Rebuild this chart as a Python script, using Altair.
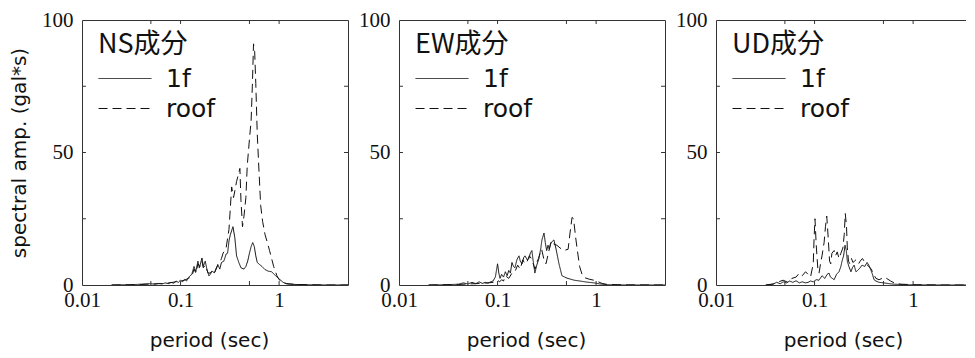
import altair as alt
import pandas as pd

# ---------------- data ----------------
ns_1f_period = [0.02, 0.03, 0.04, 0.05, 0.055, 0.06, 0.065, 0.07, 0.075, 0.08, 0.085, 0.09, 0.095,
                0.1, 0.105, 0.11, 0.115, 0.12, 0.125, 0.13, 0.137, 0.143, 0.15, 0.155, 0.165, 0.17,
                0.178, 0.185, 0.194, 0.2, 0.21, 0.22, 0.23, 0.24, 0.25, 0.26, 0.275, 0.29, 0.30,
                0.31, 0.32, 0.34, 0.355, 0.37, 0.39, 0.41, 0.44, 0.46, 0.48, 0.50, 0.52, 0.54,
                0.56, 0.58, 0.60, 0.63, 0.67, 0.72, 0.78, 0.84, 0.92, 1.0, 1.1, 1.17, 1.3, 1.6,
                2.0, 3.0, 5.0]
ns_1f_amp = [0.0, 0.1, 0.3, 0.5, 0.3, 0.6, 0.4, 0.8, 0.5, 1.0, 0.7, 1.5, 1.0,
             1.8, 1.2, 2.2, 1.5, 2.8, 3.5, 4.0, 7.0, 5.0, 9.0, 6.4, 10.2, 7.0,
             9.0, 6.0, 3.4, 4.0, 5.3, 4.5, 6.4, 7.5, 6.0, 8.5, 9.0, 11.7, 12.0,
             16.6, 19.0, 22.0, 18.0, 11.0, 8.5, 6.5, 6.0, 7.0, 9.0, 12.0, 14.5, 16.0,
             14.5, 11.0, 8.5, 7.8, 7.0, 5.8, 5.2, 5.0, 3.5, 2.3, 1.0, 0.5, 0.3, 0.15,
             0.05, 0.0, 0.0]

ns_roof_period = [0.02, 0.03, 0.04, 0.05, 0.06, 0.07, 0.08, 0.09, 0.1, 0.11, 0.12, 0.13, 0.137,
                  0.143, 0.15, 0.157, 0.165, 0.17, 0.178, 0.19, 0.2, 0.21, 0.22, 0.23, 0.24,
                  0.25, 0.26, 0.27, 0.28, 0.29, 0.31, 0.33, 0.345, 0.37, 0.40, 0.41, 0.425,
                  0.44, 0.46, 0.475, 0.50, 0.52, 0.535, 0.55, 0.565, 0.58, 0.60, 0.625, 0.65,
                  0.68, 0.72, 0.76, 0.80, 0.88, 0.95, 1.0, 1.1, 1.2, 1.5, 2.0, 3.0, 5.0]
ns_roof_amp = [0.0, 0.1, 0.2, 0.4, 0.5, 0.6, 0.9, 1.2, 1.5, 1.8, 2.5, 3.2, 6.0,
               4.5, 8.0, 7.0, 9.0, 6.5, 7.5, 4.5, 4.5, 5.5, 4.5, 6.0, 8.0,
               8.5, 10.0, 12.0, 13.0, 14.0, 21.0, 37.0, 33.0, 39.0, 44.0, 32.0, 22.0,
               26.0, 33.0, 45.0, 55.0, 62.0, 75.0, 91.0, 88.0, 76.0, 57.0, 43.0, 30.0,
               24.0, 19.0, 16.0, 13.0, 7.0, 3.5, 2.0, 1.0, 0.5, 0.2, 0.1, 0.0, 0.0]

ew_1f_period = [0.02, 0.03, 0.04, 0.045, 0.05, 0.055, 0.06, 0.065, 0.07, 0.075, 0.08, 0.085, 0.09,
                0.095, 0.1, 0.103, 0.106, 0.11, 0.115, 0.12, 0.125, 0.13, 0.135, 0.14, 0.145,
                0.15, 0.157, 0.165, 0.17, 0.177, 0.185, 0.19, 0.2, 0.208, 0.215, 0.223, 0.23,
                0.239, 0.25, 0.263, 0.275, 0.282, 0.296, 0.305, 0.315, 0.325, 0.335, 0.345,
                0.36, 0.373, 0.39, 0.40, 0.42, 0.45, 0.48, 0.506, 0.55, 0.6, 0.686, 0.77, 0.85,
                0.95, 1.09, 1.3, 2.0, 5.0]
ew_1f_amp = [0.0, 0.1, 0.3, 0.8, 0.4, 1.0, 0.5, 1.2, 0.6, 1.0, 0.7, 1.2, 1.5,
             3.0, 8.0, 4.5, 2.5, 4.0, 3.0, 5.0, 3.5, 5.5, 4.5, 8.5, 7.0,
             6.5, 9.5, 11.0, 9.0, 8.0, 10.5, 11.0, 9.5, 10.0, 12.0, 13.0, 9.0,
             4.5, 7.5, 10.0, 14.0, 17.0, 19.6, 16.0, 13.0, 15.0, 13.5, 15.5,
             16.5, 17.0, 14.0, 12.0, 8.0, 3.5, 3.0, 2.6, 2.2, 1.8, 1.5, 1.2, 1.0,
             0.8, 0.4, 0.1, 0.0, 0.0]

ew_roof_period = [0.02, 0.04, 0.05, 0.06, 0.07, 0.08, 0.09, 0.1, 0.105, 0.11, 0.115, 0.12, 0.13,
                  0.14, 0.15, 0.16, 0.17, 0.18, 0.19, 0.2, 0.21, 0.22, 0.23, 0.24, 0.25, 0.26,
                  0.27, 0.28, 0.29, 0.30, 0.31, 0.33, 0.35, 0.37, 0.40, 0.43, 0.47, 0.52, 0.545,
                  0.57, 0.59, 0.62, 0.64, 0.68, 0.72, 0.76, 0.85, 0.95, 1.05, 1.15, 1.3, 2.0, 5.0]
ew_roof_amp = [0.0, 0.2, 0.4, 0.5, 0.7, 0.8, 1.0, 1.8, 1.2, 2.0, 1.5, 3.5, 2.5,
               4.5, 5.0, 7.5, 6.0, 9.5, 8.0, 9.0, 11.0, 10.0, 8.0, 6.0, 8.5, 10.0,
               12.0, 13.5, 11.0, 8.5, 8.0, 12.5, 16.6, 15.5, 15.0, 14.0, 13.0, 13.5, 20.0,
               25.5, 25.0, 18.0, 14.0, 7.0, 4.0, 2.8, 2.2, 1.8, 1.2, 0.6, 0.2, 0.05, 0.0]

ud_1f_period = [0.032, 0.038, 0.041, 0.045, 0.048, 0.052, 0.056, 0.06, 0.065, 0.07, 0.075, 0.081,
                0.086, 0.091, 0.097, 0.104, 0.111, 0.119, 0.127, 0.134, 0.14, 0.145, 0.158, 0.167,
                0.177, 0.185, 0.19, 0.197, 0.204, 0.21, 0.215, 0.223, 0.234, 0.242, 0.252, 0.263,
                0.274, 0.29, 0.303, 0.323, 0.341, 0.355, 0.374, 0.387, 0.401, 0.419, 0.452, 0.505,
                0.57, 0.645, 0.86, 1.075, 2.0, 5.0]
ud_1f_amp = [0.0, 0.3, 1.0, 0.5, 1.2, 0.8, 1.5, 1.0, 1.6, 0.8, 1.2, 0.8,
             1.0, 1.5, 1.2, 2.0, 1.8, 3.5, 2.5, 4.0, 4.5, 3.0, 2.0, 4.0,
             5.0, 7.0, 9.0, 11.0, 15.0, 13.0, 9.0, 7.0, 5.0, 6.5, 7.5, 5.0,
             5.5, 6.5, 7.5, 7.0, 8.5, 7.5, 5.5, 4.0, 2.0, 1.5, 1.0, 0.8, 0.5,
             0.3, 0.1, 0.05, 0.0, 0.0]

ud_roof_period = [0.032, 0.038, 0.043, 0.048, 0.054, 0.059, 0.065, 0.07, 0.075, 0.081, 0.086, 0.091,
                  0.097, 0.099, 0.101, 0.104, 0.108, 0.111, 0.115, 0.119, 0.125, 0.129, 0.133,
                  0.138, 0.142, 0.146, 0.15, 0.158, 0.163, 0.17, 0.177, 0.185, 0.194, 0.2, 0.205,
                  0.211, 0.215, 0.221, 0.228, 0.237, 0.245, 0.254, 0.263, 0.28, 0.29, 0.306, 0.318,
                  0.333, 0.355, 0.376, 0.398, 0.419, 0.452, 0.484, 0.516, 0.538, 0.591, 0.645,
                  0.753, 1.075, 2.0, 5.0]
ud_roof_amp = [0.0, 0.4, 1.2, 1.8, 1.0, 2.5, 3.0, 4.5, 3.5, 5.0, 4.0, 3.0,
               8.0, 18.0, 25.0, 15.0, 6.0, 4.5, 8.0, 11.0, 16.0, 22.0, 26.0,
               17.0, 9.0, 8.0, 12.0, 13.0, 11.0, 12.5, 10.0, 12.0, 14.0, 19.0, 27.0,
               22.0, 14.0, 9.0, 8.0, 10.0, 8.5, 9.0, 9.5, 8.0, 9.0, 10.0, 9.0,
               8.0, 7.0, 6.0, 4.0, 2.5, 2.0, 2.5, 3.0, 2.5, 1.5, 0.8,
               0.3, 0.1, 0.0, 0.0]

panel_names = ["NS成分", "EW成分", "UD成分"]
series_names = ["1f", "roof"]
x_label_values = [0.01, 0.1, 1]
x_tick_values = [0.05, 0.1, 0.5, 1]
y_label_values = [0, 50, 100]
y_tick_values = [25, 50, 75]

# ---------------- styling ----------------
INK = "#111111"
FRAME = "#333333"
SERIF = "Liberation Serif"
SANS = "DejaVu Sans"
LEG_TITLE_FONT = "Noto Sans CJK JP"
PANEL_W = 266
PANEL_H = 265
LAST_W = 250
GAP = 51
TICK_Y = 1.5      # tick length in y units (~4px)
TICK_XF = 1.097   # tick length as a log factor (~4px)


def make_df(p1, a1, p2, a2):
    d1 = pd.DataFrame({"period": p1, "amp": a1, "series": series_names[0]})
    d2 = pd.DataFrame({"period": p2, "amp": a2, "series": series_names[1]})
    return pd.concat([d1, d2], ignore_index=True)


def panel(df, name, width, xmax, ytitle, framed):
    xscale = alt.Scale(type="log", domain=[0.01, xmax], nice=False)
    yscale = alt.Scale(domain=[0, 100], nice=False)
    xs = [v for v in x_tick_values if v < xmax]

    x_axis = alt.Axis(
        values=x_label_values, labelExpr="format(datum.value, '~g')",
        labelFont=SERIF, labelFontSize=21, labelColor=INK, labelFlush=False,
        labelPadding=4, ticks=False, domain=not framed, domainColor=FRAME,
        grid=False, title="period (sec)", titleFont=SANS, titleFontSize=20,
        titleFontWeight="normal", titleColor=INK, titlePadding=20,
        titleX=127,
    )
    y_kwargs = dict(
        values=y_label_values, labelFont=SERIF, labelFontSize=21, labelColor=INK,
        labelPadding=9, ticks=False, domain=not framed, domainColor=FRAME, grid=False,
    )
    if ytitle:
        y_axis = alt.Axis(title="spectral amp. (gal*s)", titleFont=SANS, titleFontSize=20,
                          titleFontWeight="normal", titleColor=INK, titlePadding=12, **y_kwargs)
    else:
        y_axis = alt.Axis(title=None, **y_kwargs)

    # in the un-framed (last) panel x axes are independent, so helper layers carry none
    helper_x_axis = x_axis if framed else None

    lines = alt.Chart(df).mark_line(color=INK, strokeWidth=1, clip=True).encode(
        x=alt.X("period:Q", scale=xscale, axis=x_axis),
        y=alt.Y("amp:Q", scale=yscale, axis=y_axis),
        strokeDash=alt.StrokeDash(
            "series:N",
            scale=alt.Scale(domain=series_names, range=[[1, 0], [9, 5]]),
            legend=alt.Legend(
                title=name, orient="none", legendX=16, legendY=12,
                symbolType="stroke", symbolSize=2800, symbolStrokeWidth=1,
                symbolStrokeColor=INK, labelFont=SANS, labelFontSize=25,
                labelColor=INK, labelOffset=14, titleFont=LEG_TITLE_FONT,
                titleFontSize=27, titleFontWeight="normal", titleColor=INK,
                titlePadding=7, rowPadding=4, padding=0, clipHeight=25,
            ),
        ),
    )

    xt = pd.DataFrame({"tick": xs})
    yt = pd.DataFrame({"tick": y_tick_values})
    bottom = alt.Chart(xt).mark_rule(color=FRAME, strokeWidth=1).encode(
        x=alt.X("tick:Q", scale=xscale, axis=helper_x_axis),
        y=alt.YDatum(0, axis=y_axis), y2=alt.datum(TICK_Y),
    )
    if framed:
        top_axis = x_axis
    else:
        top_axis = alt.Axis(orient="top", labels=False, ticks=False, domain=True,
                            domainColor=FRAME, grid=False, title=None)
    top = alt.Chart(xt).mark_rule(color=FRAME, strokeWidth=1).encode(
        x=alt.X("tick:Q", scale=xscale, axis=top_axis),
        y=alt.YDatum(100, axis=y_axis), y2=alt.datum(100 - TICK_Y),
    )
    left = alt.Chart(yt).mark_rule(color=FRAME, strokeWidth=1).encode(
        y=alt.Y("tick:Q", scale=yscale, axis=y_axis),
        x=alt.XDatum(0.01, axis=helper_x_axis), x2=alt.datum(0.01 * TICK_XF),
    )
    layers = [lines, bottom, top, left]
    if framed:
        right = alt.Chart(yt).mark_rule(color=FRAME, strokeWidth=1).encode(
            y=alt.Y("tick:Q", scale=yscale, axis=y_axis),
            x=alt.XDatum(xmax, axis=helper_x_axis), x2=alt.datum(xmax / TICK_XF),
        )
        layers.append(right)

    ch = alt.layer(*layers).properties(width=width, height=PANEL_H)
    if framed:
        ch = ch.properties(view=alt.ViewBackground(stroke=FRAME, strokeWidth=1))
    else:
        ch = ch.properties(
            view=alt.ViewBackground(stroke="white", strokeOpacity=0, strokeWidth=0)
        ).resolve_axis(x="independent")
    return ch


p_ns = panel(make_df(ns_1f_period, ns_1f_amp, ns_roof_period, ns_roof_amp),
             panel_names[0], PANEL_W, 5.0, True, True)
p_ew = panel(make_df(ew_1f_period, ew_1f_amp, ew_roof_period, ew_roof_amp),
             panel_names[1], PANEL_W, 5.0, False, True)
last_max = 10 ** (LAST_W / (PANEL_W / 2.69897) - 2)
p_ud = panel(make_df(ud_1f_period, ud_1f_amp, ud_roof_period, ud_roof_amp),
             panel_names[2], LAST_W, last_max, False, False)

chart = alt.hconcat(p_ns, p_ew, p_ud, spacing=GAP, bounds="flush").resolve_legend(
    strokeDash="independent"
).properties(
    padding={"left": 1, "top": 0, "right": 0, "bottom": 0},
    background="white",
)

chart.save("out.html", embed_options={"renderer": "svg", "actions": False})
